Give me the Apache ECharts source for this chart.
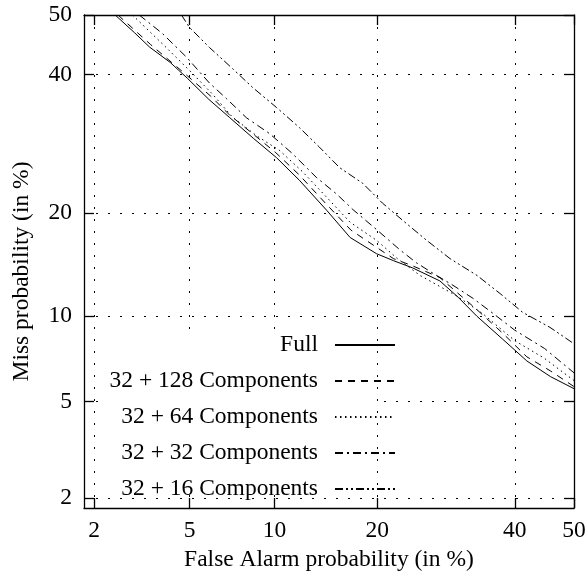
<!DOCTYPE html>
<html>
<head>
<meta charset="utf-8">
<script src="https://cdn.jsdelivr.net/npm/echarts@6/dist/echarts.min.js"></script>
<style>
  html, body { margin: 0; padding: 0; background: #fff; }
  #chart { width: 588px; height: 571px; }
</style>
</head>
<body>
<div id="chart"></div>
<script>
// tick labels (percent)
var xTicks = [2, 5, 10, 20, 40, 50];
var yTicks = [2, 5, 10, 20, 40, 50];
var axisMinPct = 1.8;

var seriesNames = ['Full', '32 + 128 Components', '32 + 64 Components', '32 + 32 Components', '32 + 16 Components'];

// false alarm % / miss %
var fullX = [2.48, 3.0, 3.46, 4.2, 4.9, 5.9, 7.0, 8.5, 10.15, 12.0, 14.5, 16.9, 19.9, 22.0, 24.5, 28.3, 31.0, 33.9, 38.0, 42.0, 46.0, 50];
var fullY = [50, 47.0, 44.6, 42.0, 39.4, 36.0, 33.2, 30.0, 27.2, 24.1, 20.3, 17.2, 15.5, 14.8, 14.1, 12.9, 11.5, 10.0, 8.4, 7.06, 6.2, 5.6];

var c128X = [2.55, 3.5, 4.9, 6.0, 7.0, 8.5, 10.1, 12.0, 14.5, 17.0, 20.0, 22.0, 24.5, 28.3, 33.9, 38.0, 42.0, 46.0, 50];
var c128Y = [50, 45.0, 39.8, 36.5, 33.6, 30.6, 27.9, 24.8, 21.0, 18.0, 16.1, 15.0, 14.3, 13.2, 10.5, 8.8, 7.3, 6.5, 5.7];

var c64X = [2.94, 4.05, 5.12, 6.1, 7.19, 8.7, 10.4, 12.3, 14.5, 16.9, 19.9, 22.5, 25.5, 30.8, 34.8, 40.0, 45.0, 50];
var c64Y = [50, 44.5, 40.2, 36.8, 33.2, 30.4, 28.2, 25.2, 21.9, 18.9, 16.9, 15.0, 13.4, 11.6, 10.2, 8.3, 7.2, 6.0];

var c32X = [3.14, 3.9, 4.86, 5.94, 6.85, 8.05, 9.63, 11.4, 13.5, 15.5, 17.2, 20.0, 22.8, 25.0, 27.3, 30.0, 33.3, 36.5, 40.0, 45.0, 50];
var c32Y = [50, 46.9, 42.9, 38.6, 36.1, 33.1, 30.7, 27.8, 24.5, 22.3, 20.4, 18.0, 15.9, 14.6, 13.6, 12.6, 11.4, 10.2, 9.0, 7.8, 6.4];

var c16X = [4.65, 4.99, 5.94, 7.19, 8.45, 10.15, 12.0, 13.8, 15.8, 18.3, 20.6, 23.2, 26.4, 29.8, 33.9, 37.6, 41.3, 45.9, 50];
var c16Y = [50, 47.9, 44.5, 41.0, 37.9, 34.7, 31.6, 28.7, 25.8, 23.7, 21.2, 19.1, 16.9, 15.0, 13.4, 11.8, 10.3, 9.2, 8.1];

var lineTypes = ['solid', [7, 6], [1.5, 3.5], [8, 4, 2, 4], [8, 3, 2, 3, 2, 3]];

// inverse normal cdf (Acklam), used for the DET (normal deviate) scale
function probit(p) {
    var a = [-3.969683028665376e+01, 2.209460984245205e+02, -2.759285104469687e+02, 1.383577518672690e+02, -3.066479806614716e+01, 2.506628277459239e+00];
    var b = [-5.447609879822406e+01, 1.615858368580409e+02, -1.556989798598866e+02, 6.680131188771972e+01, -1.328068155288572e+01];
    var c = [-7.784894002430293e-03, -3.223964580411365e-01, -2.400758277161838e+00, -2.549671010229583e+00, 4.374664141464968e+00, 2.938163982698783e+00];
    var d = [7.784695709041462e-03, 3.224671290700398e-01, 2.445134137142996e+00, 3.754408661907416e+00];
    var plow = 0.02425, q, r;
    if (p < plow) {
        q = Math.sqrt(-2 * Math.log(p));
        return (((((c[0] * q + c[1]) * q + c[2]) * q + c[3]) * q + c[4]) * q + c[5]) /
            ((((d[0] * q + d[1]) * q + d[2]) * q + d[3]) * q + 1);
    }
    if (p <= 1 - plow) {
        q = p - 0.5;
        r = q * q;
        return (((((a[0] * r + a[1]) * r + a[2]) * r + a[3]) * r + a[4]) * r + a[5]) * q /
            (((((b[0] * r + b[1]) * r + b[2]) * r + b[3]) * r + b[4]) * r + 1);
    }
    q = Math.sqrt(-2 * Math.log(1 - p));
    return -(((((c[0] * q + c[1]) * q + c[2]) * q + c[3]) * q + c[4]) * q + c[5]) /
        ((((d[0] * q + d[1]) * q + d[2]) * q + d[3]) * q + 1);
}

function pct(v) { return probit(v / 100); }

function nearestTick(ticks) {
    return function (v) {
        var best = ticks[0];
        ticks.forEach(function (t) {
            if (Math.abs(pct(t) - v) < Math.abs(pct(best) - v)) best = t;
        });
        return String(best);
    };
}

var FONT = 'Liberation Serif';
var FS = 23.5;

function makeAxis(dim, ticks, mirror) {
    var ax = {
        type: 'value',
        min: pct(axisMinPct),
        max: 0,
        position: dim === 'x' ? (mirror ? 'top' : 'bottom') : (mirror ? 'right' : 'left'),
        axisLine: { show: true, onZero: false, lineStyle: { color: '#000', width: 1.3 } },
        axisTick: {
            show: true, inside: true, length: 10,
            customValues: ticks.map(pct),
            lineStyle: { color: '#000', width: 1.3 }
        },
        axisLabel: {
            show: !mirror,
            customValues: ticks.map(pct),
            formatter: nearestTick(ticks),
            fontFamily: FONT, fontSize: FS, color: '#000',
            margin: dim === 'x' ? 11 : 12
        },
        splitLine: {
            show: !mirror,
            lineStyle: { color: '#000', width: 1, type: [2, 10] }
        }
    };
    if (!mirror) {
        ax.nameLocation = 'middle';
        if (dim === 'x') {
            ax.name = 'False Alarm probability (in %)';
            ax.nameGap = 38;
            ax.nameTextStyle = { fontFamily: FONT, fontSize: FS, color: '#000' };
        } else {
            ax.name = 'Miss probability (in %)';
            ax.nameGap = 50;
            ax.nameTextStyle = { fontFamily: FONT, fontSize: FS, color: '#000', padding: [0, 20, 0, 0] };
        }
    }
    return ax;
}

function toPairs(xs, ys) {
    return xs.map(function (x, i) { return [pct(x), pct(ys[i])]; });
}

var curves = [[fullX, fullY], [c128X, c128Y], [c64X, c64Y], [c32X, c32Y], [c16X, c16Y]];

var series = curves.map(function (cv, i) {
    return {
        name: seriesNames[i],
        type: 'line',
        symbol: 'none',
        smooth: false,
        data: toPairs(cv[0], cv[1]),
        lineStyle: { color: '#000', width: 1, type: lineTypes[i] },
        itemStyle: { color: '#000' },
        z: 3
    };
});

var chart = echarts.init(document.getElementById('chart'));
chart.setOption({
    backgroundColor: '#fff',
    animation: false,
    grid: { left: 84, right: 14, top: 15, bottom: 63, outerBoundsMode: 'none', containLabel: false },
    xAxis: [makeAxis('x', xTicks, false), makeAxis('x', xTicks, true)],
    yAxis: [makeAxis('y', yTicks, false), makeAxis('y', yTicks, true)],
    legend: {
        data: seriesNames,
        orient: 'vertical',
        align: 'right',
        right: 192,
        top: 333,
        padding: 0,
        itemWidth: 60,
        itemHeight: 14,
        itemGap: 12,
        itemStyle: { opacity: 0 },
        textStyle: { fontFamily: FONT, fontSize: FS, color: '#000', lineHeight: 24, padding: [0, 12, 0, 0] }
    },
    // gnuplot-style key area blanks the grid behind the labels
    graphic: [{
        type: 'rect',
        z: 1,
        shape: { x: 100, y: 330, width: 275, height: 160 },
        style: { fill: '#fff' }
    }],
    series: series
});
</script>
</body>
</html>
